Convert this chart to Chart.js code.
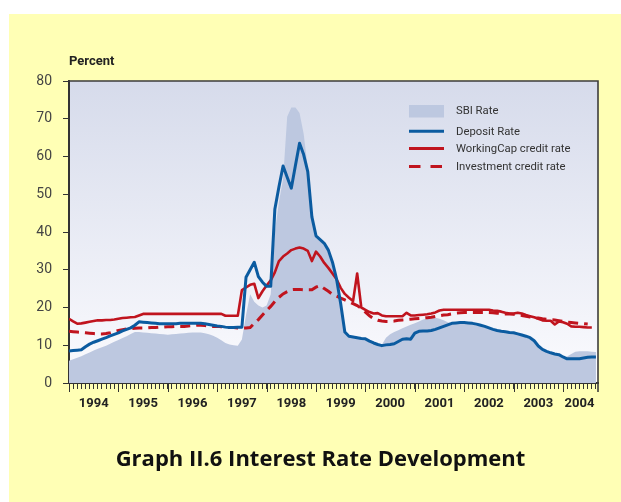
<!DOCTYPE html>
<html><head><meta charset="utf-8">
<script src="https://cdn.jsdelivr.net/npm/chart.js@4.4.1/dist/chart.umd.min.js"></script>
<style>
html,body{margin:0;padding:0;background:#fff;}
#wrap{position:relative;width:621px;height:502px;overflow:hidden;}
#panel{position:absolute;left:9px;top:14px;right:0;bottom:0;background:#FFFFB5;}
#c{position:absolute;left:0;top:0;}
</style></head>
<body><div id="wrap"><div id="panel"></div><canvas id="c" width="621" height="502"></canvas></div>
<script>
// Tick labels (years) — monthly data starts January 1994
const years = ['1994','1995','1996','1997','1998','1999','2000','2001','2002','2003','2004'];

// Monthly values, Jan 1994 onward (percent)
const sbiRate = [
  5.9, 6.3, 6.7, 7.1, 7.6, 8.1, 8.6, 9.1, 9.5, 9.9, 10.4, 10.9,
  11.4, 11.9, 12.4, 13.0, 13.5, 13.5, 13.4, 13.3, 13.2, 13.1, 13.0, 12.9,
  12.8, 12.9, 13.0, 13.1, 13.2, 13.3, 13.4, 13.4, 13.4, 13.2, 12.9, 12.5,
  12.0, 11.3, 10.6, 10.2, 10.0, 9.9, 11.5, 18.0, 23.5, 21.5, 20.5, 20.0,
  20.5, 23.5, 40.0, 48.0, 54.0, 70.5, 73.0, 73.0, 71.5, 66.0, 57.0, 43.0,
  38.5, 37.5, 36.5, 34.8, 31.5, 27.0, 20.5, 13.2, 12.6, 12.4, 12.2, 12.0,
  11.9, 11.4, 10.9, 10.4, 10.1, 12.0, 12.9, 13.5, 14.0, 14.5, 15.0, 15.4,
  15.8, 16.3, 16.8, 17.1, 17.3, 17.3, 17.0, 16.6, 16.1, 15.8, 15.8, 15.8,
  15.9, 15.8, 15.7, 15.5, 15.2, 14.9, 14.5, 14.1, 13.8, 13.6, 13.5, 13.3,
  13.2, 12.9, 12.6, 12.3, 11.9, 11.1, 9.7, 8.8, 8.3, 7.9, 7.6, 7.4,
  6.8, 7.0, 7.7, 8.3, 8.4, 8.4, 8.4, 8.3, 8.2
];
const depositRate = [
  8.5, 8.6, 8.7, 8.8, 9.6, 10.3, 10.8, 11.2, 11.6, 12.0, 12.5, 12.9,
  13.3, 13.8, 14.2, 14.6, 15.3, 16.2, 16.1, 16.0, 15.9, 15.8, 15.7, 15.7,
  15.7, 15.7, 15.7, 15.8, 15.8, 15.8, 15.8, 15.8, 15.8, 15.7, 15.5, 15.3,
  15.1, 15.0, 14.8, 14.7, 14.7, 14.8, 14.8, 28.0, 30.0, 32.0, 28.2, 26.7,
  25.6, 25.6, 46.0, 52.0, 57.5, 54.5, 51.6, 57.6, 63.5, 60.5, 56.0, 44.0,
  39.0, 38.0, 37.0, 35.2, 32.0, 27.5, 21.0, 13.5, 12.4, 12.2, 12.0, 11.8,
  11.7, 11.1, 10.6, 10.2, 9.9, 10.1, 10.2, 10.4, 11.0, 11.6, 11.7, 11.6,
  13.2, 13.7, 13.8, 13.8, 13.9, 14.2, 14.6, 15.0, 15.4, 15.8, 15.9, 16.0,
  16.0, 15.9, 15.8, 15.6, 15.3, 15.0, 14.6, 14.2, 13.9, 13.7, 13.6, 13.4,
  13.3, 13.0, 12.7, 12.4, 12.0, 11.2, 9.8, 8.9, 8.4, 8.0, 7.7, 7.5,
  6.9, 6.4, 6.4, 6.4, 6.4, 6.6, 6.8, 6.9, 6.9
];
const workingCapRate = [
  17.0, 16.3, 15.7, 15.8, 16.0, 16.2, 16.4, 16.6, 16.6, 16.7, 16.7, 16.8,
  17.0, 17.2, 17.3, 17.4, 17.5, 17.9, 18.3, 18.3, 18.3, 18.3, 18.3, 18.3,
  18.3, 18.3, 18.3, 18.3, 18.3, 18.3, 18.3, 18.3, 18.3, 18.3, 18.3, 18.3,
  18.3, 18.3, 17.8, 17.8, 17.8, 17.8, 24.6, 25.3, 26.0, 26.3, 22.5, 24.3,
  25.8, 27.2, 29.3, 32.3, 33.5, 34.3, 35.2, 35.6, 35.9, 35.6, 35.0, 32.3,
  34.8, 33.5, 31.8, 30.5, 29.0, 27.5, 25.2, 23.6, 22.6, 21.7, 29.0, 20.0,
  19.4, 18.8, 18.4, 18.5, 17.9, 17.7, 17.7, 17.7, 17.7, 17.7, 18.6, 17.9,
  17.9, 18.0, 18.1, 18.2, 18.4, 18.7, 19.2, 19.4, 19.4, 19.4, 19.4, 19.4,
  19.4, 19.4, 19.4, 19.4, 19.4, 19.4, 19.4, 19.2, 19.1, 18.9, 18.6, 18.4,
  18.4, 18.6, 18.4, 18.0, 17.7, 17.4, 17.0, 16.6, 16.5, 16.5, 15.5, 16.3,
  16.1, 15.7, 15.0, 14.9, 14.9, 14.8, 14.7, 14.7
];
const investmentRate = [
  13.7, 13.6, 13.5, 13.4, 13.3, 13.2, 13.1, 13.0, 13.0, 13.1, 13.3, 13.6,
  13.9, 14.1, 14.3, 14.4, 14.5, 14.6, 14.6, 14.6, 14.7, 14.7, 14.8, 14.8,
  14.9, 14.9, 15.0, 15.0, 15.0, 15.1, 15.2, 15.3, 15.3, 15.2, 15.1, 15.0,
  15.0, 14.9, 14.8, 14.7, 14.7, 14.6, 14.6, 14.6, 14.7, 15.8, 16.8, 18.0,
  19.2, 20.3, 21.6, 22.7, 23.6, 24.2, 24.7, 24.8, 24.8, 24.7, 24.7, 24.7,
  25.4, 25.8, 25.0, 24.3, 23.5, 23.0, 22.5, 22.0, 21.5, 21.0, 20.5, 19.8,
  18.8, 17.8, 17.0, 16.6, 16.4, 16.3, 16.3, 16.4, 16.6, 16.7, 16.8, 16.9,
  17.0, 17.1, 17.2, 17.3, 17.4, 17.6, 17.8, 18.0, 18.1, 18.3, 18.5, 18.6,
  18.7, 18.7, 18.7, 18.7, 18.7, 18.7, 18.7, 18.6, 18.5, 18.4, 18.3, 18.3,
  18.2, 18.0, 17.9, 17.7, 17.5, 17.3, 17.2, 17.0, 16.9, 16.8, 16.7, 16.5,
  16.3, 16.1, 16.0, 15.9, 15.8, 15.7, 15.6
];

const X_MAX = 128.5; // axis ends part-way through Sep 2004 (month index)
const toXY = arr => arr.map((v, i) => ({x: i, y: v}));

const FONT = 'Roboto, "Open Sans", sans-serif';
const TITLE_FONT = '"Open Sans", Roboto, sans-serif';
const SBI_COLOR = '#BDC8E0';
const BLUE = '#0B5BA0';
const RED = '#C0141E';

// year label positions: middle of each year's visible span
const yearLabelAt = {};
years.forEach((y, k) => {
  const s = k * 12, e = Math.min(s + 12, X_MAX);
  yearLabelAt[Math.round((s + e) / 2)] = y;
});

const plotBg = {
  id: 'plotBg',
  beforeDraw(chart) {
    const {ctx, chartArea: a} = chart;
    const g = ctx.createLinearGradient(0, a.top, 0, a.bottom);
    g.addColorStop(0, '#D6DBEB');
    g.addColorStop(1, '#FBFBFE');
    ctx.save();
    ctx.fillStyle = g;
    ctx.fillRect(a.left, a.top, a.right - a.left, a.bottom - a.top);
    ctx.restore();
  },
  afterDraw(chart) {
    const {ctx, chartArea: a, scales} = chart;
    const xs = scales.x;
    ctx.save();
    // frame top + right
    ctx.strokeStyle = '#3d3d3d';
    ctx.lineWidth = 1.6;
    ctx.beginPath();
    ctx.moveTo(a.left, a.top);
    ctx.lineTo(a.right, a.top);
    ctx.lineTo(a.right, a.bottom + 9);
    ctx.stroke();
    // longer year ticks
    ctx.strokeStyle = '#333';
    ctx.lineWidth = 1;
    for (let k = 0; k < years.length; k++) {
      const px = Math.round(xs.getPixelForValue(k * 12)) + 0.5;
      ctx.beginPath();
      ctx.moveTo(px, a.bottom);
      ctx.lineTo(px, a.bottom + 9);
      ctx.stroke();
    }
    // legend
    const rows = [
      {ds: 0, y: 111.5, kind: 'box'},
      {ds: 1, y: 132.3, kind: 'line'},
      {ds: 2, y: 149.6, kind: 'line'},
      {ds: 3, y: 167.5, kind: 'dash'}
    ];
    const x0 = 409, x1 = 444, tx = 456;
    ctx.font = '11.3px ' + FONT;
    ctx.textBaseline = 'middle';
    ctx.textAlign = 'left';
    rows.forEach(r => {
      const d = chart.data.datasets[r.ds];
      if (r.kind === 'box') {
        ctx.fillStyle = d.backgroundColor;
        ctx.fillRect(x0, r.y - 6.5, x1 - x0, 12.5);
      } else {
        ctx.strokeStyle = d.borderColor;
        ctx.lineWidth = 3;
        ctx.setLineDash(r.kind === 'dash' ? [11.5, 10] : []);
        ctx.beginPath();
        ctx.moveTo(x0, r.y - 1);
        ctx.lineTo(x1, r.y - 1);
        ctx.stroke();
        ctx.setLineDash([]);
      }
      ctx.fillStyle = '#333';
      ctx.fillText(d.label, tx, r.y);
    });
    ctx.restore();
  }
};

new Chart(document.getElementById('c'), {
  type: 'line',
  data: {
    datasets: [
      {label: 'SBI Rate', data: toXY(sbiRate), fill: 'origin', backgroundColor: SBI_COLOR,
       borderWidth: 0, borderColor: 'rgba(0,0,0,0)', pointRadius: 0, order: 3},
      {label: 'Deposit Rate', data: toXY(depositRate), borderColor: BLUE, borderWidth: 3,
       pointRadius: 0, fill: false, order: 0, borderJoinStyle: 'round'},
      {label: 'WorkingCap credit rate', data: toXY(workingCapRate), borderColor: RED, borderWidth: 2.6,
       pointRadius: 0, fill: false, order: 1, borderJoinStyle: 'round'},
      {label: 'Investment credit rate', data: toXY(investmentRate), borderColor: RED, borderWidth: 3,
       borderDash: [10, 6], pointRadius: 0, fill: false, order: 2}
    ]
  },
  options: {
    responsive: false,
    animation: false,
    devicePixelRatio: 1,
    layout: {padding: {left: 20, right: 0, top: 53.7, bottom: 0}},
    plugins: {
      legend: {display: false},
      tooltip: {enabled: false},
      subtitle: {
        display: true, text: 'Percent', position: 'top', align: 'start', fullSize: false,
        color: '#222', font: {family: FONT, size: 13, weight: 'bold', lineHeight: 1.2},
        padding: {top: 0, bottom: 11.7}
      },
      title: {
        display: true, text: 'Graph II.6 Interest Rate Development', position: 'bottom',
        color: '#111', font: {family: TITLE_FONT, size: 22, weight: 'bold', lineHeight: 1.2},
        padding: {top: 0, bottom: 28.6}
      }
    },
    scales: {
      x: {
        type: 'linear', min: 0, max: X_MAX,
        afterBuildTicks: s => { s.ticks = sbiRate.map((v, i) => ({value: i})); },
        afterFit: s => { s.height = 64; },
        ticks: {
          autoSkip: false, maxRotation: 0, minRotation: 0, padding: 7,
          color: '#222', font: {family: FONT, size: 13, weight: 'bold'},
          callback: v => yearLabelAt[v] || ''
        },
        grid: {drawOnChartArea: false, drawTicks: true, tickLength: 6, color: '#333', lineWidth: 1},
        border: {display: true, color: '#333', width: 2}
      },
      y: {
        min: 0, max: 80,
        afterFit: s => { s.width = 49; },
        ticks: {stepSize: 10, padding: 11, color: '#444', font: {family: FONT, size: 14}},
        grid: {drawOnChartArea: false, drawTicks: true, tickLength: 6, color: '#333', lineWidth: 1},
        border: {display: true, color: '#333', width: 2}
      },
      yRight: {
        position: 'right', min: 0, max: 80,
        afterFit: s => { s.width = 23; },
        ticks: {display: false},
        grid: {display: false, drawTicks: false},
        border: {display: false}
      }
    }
  },
  plugins: [plotBg]
});
</script>
</body></html>
